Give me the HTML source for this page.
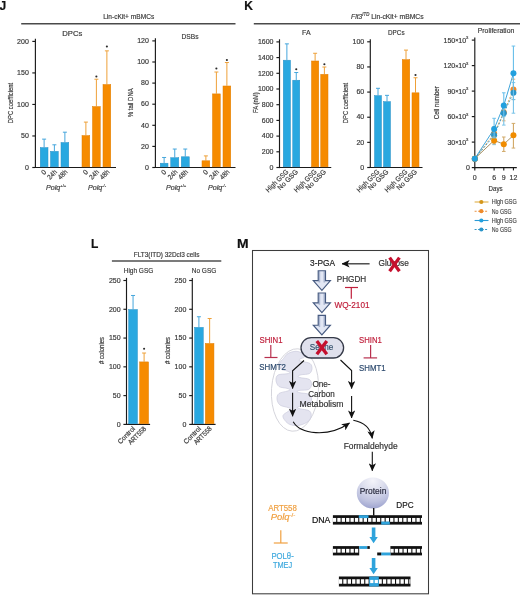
<!DOCTYPE html><html><head><meta charset="utf-8"><style>html,body{margin:0;padding:0;background:#fff;overflow:hidden;}svg{display:block;will-change:transform;}</style></head><body>
<svg width="520" height="595" viewBox="0 0 520 595" font-family='"Liberation Sans", sans-serif'>
<rect width="520" height="595" fill="#fff"/>
<text x="-0.60" y="9.90" font-size="12" fill="#111" font-weight="bold"  stroke="#111" stroke-width="0.18">J</text>
<text x="244.20" y="10.00" font-size="12" fill="#111" font-weight="bold"  stroke="#111" stroke-width="0.18">K</text>
<text x="91.00" y="247.60" font-size="12" fill="#111" font-weight="bold"  stroke="#111" stroke-width="0.18">L</text>
<text x="237.00" y="247.60" font-size="12" fill="#111" textLength="11.6" lengthAdjust="spacingAndGlyphs" font-weight="bold"  stroke="#111" stroke-width="0.18">M</text>
<text x="128.70" y="19.20" font-size="7" fill="#3a3a3a" text-anchor="middle" textLength="51" lengthAdjust="spacingAndGlyphs"  stroke="#3a3a3a" stroke-width="0.18">Lin-cKit+ mBMCs</text>
<line x1="21.20" y1="23.80" x2="235.50" y2="23.80" stroke="#4a4a4a" stroke-width="1.4" />
<text x="72.30" y="36.30" font-size="7" fill="#3a3a3a" text-anchor="middle" textLength="20" lengthAdjust="spacingAndGlyphs"  stroke="#3a3a3a" stroke-width="0.18">DPCs</text>
<line x1="32.30" y1="167.50" x2="35.40" y2="167.50" stroke="#1a1a1a" stroke-width="1.15" />
<text x="28.80" y="169.75" font-size="7" fill="#3a3a3a" text-anchor="end"  stroke="#3a3a3a" stroke-width="0.18">0</text>
<line x1="32.30" y1="135.97" x2="35.40" y2="135.97" stroke="#1a1a1a" stroke-width="1.15" />
<text x="28.80" y="138.22" font-size="7" fill="#3a3a3a" text-anchor="end"  stroke="#3a3a3a" stroke-width="0.18">50</text>
<line x1="32.30" y1="104.45" x2="35.40" y2="104.45" stroke="#1a1a1a" stroke-width="1.15" />
<text x="28.80" y="106.70" font-size="7" fill="#3a3a3a" text-anchor="end"  stroke="#3a3a3a" stroke-width="0.18">100</text>
<line x1="32.30" y1="72.93" x2="35.40" y2="72.93" stroke="#1a1a1a" stroke-width="1.15" />
<text x="28.80" y="75.18" font-size="7" fill="#3a3a3a" text-anchor="end"  stroke="#3a3a3a" stroke-width="0.18">150</text>
<line x1="32.30" y1="41.40" x2="35.40" y2="41.40" stroke="#1a1a1a" stroke-width="1.15" />
<text x="28.80" y="43.65" font-size="7" fill="#3a3a3a" text-anchor="end"  stroke="#3a3a3a" stroke-width="0.18">200</text>
<line x1="35.40" y1="38.80" x2="35.40" y2="168.10" stroke="#1a1a1a" stroke-width="1.15" />
<line x1="34.80" y1="167.50" x2="116.00" y2="167.50" stroke="#1a1a1a" stroke-width="1.15" />
<line x1="44.12" y1="147.32" x2="44.12" y2="139.13" stroke="#45a6dc" stroke-width="1.0" />
<line x1="42.12" y1="139.13" x2="46.12" y2="139.13" stroke="#45a6dc" stroke-width="1.0" />
<rect x="40.25" y="147.57" width="7.75" height="19.28" fill="#29a8e0" stroke="#2a90c6" stroke-width="0.5"/>
<line x1="54.38" y1="151.11" x2="54.38" y2="144.80" stroke="#45a6dc" stroke-width="1.0" />
<line x1="52.38" y1="144.80" x2="56.38" y2="144.80" stroke="#45a6dc" stroke-width="1.0" />
<rect x="50.50" y="151.36" width="7.75" height="15.49" fill="#29a8e0" stroke="#2a90c6" stroke-width="0.5"/>
<line x1="64.88" y1="142.28" x2="64.88" y2="132.19" stroke="#45a6dc" stroke-width="1.0" />
<line x1="62.88" y1="132.19" x2="66.88" y2="132.19" stroke="#45a6dc" stroke-width="1.0" />
<rect x="61.00" y="142.53" width="7.75" height="24.32" fill="#29a8e0" stroke="#2a90c6" stroke-width="0.5"/>
<line x1="85.88" y1="135.34" x2="85.88" y2="122.10" stroke="#eea038" stroke-width="1.0" />
<line x1="83.88" y1="122.10" x2="87.88" y2="122.10" stroke="#eea038" stroke-width="1.0" />
<rect x="82.00" y="135.59" width="7.75" height="31.26" fill="#f68b00" stroke="#e07d00" stroke-width="0.5"/>
<line x1="96.38" y1="106.34" x2="96.38" y2="79.23" stroke="#eea038" stroke-width="1.0" />
<line x1="94.38" y1="79.23" x2="98.38" y2="79.23" stroke="#eea038" stroke-width="1.0" />
<rect x="92.50" y="106.59" width="7.75" height="60.26" fill="#f68b00" stroke="#e07d00" stroke-width="0.5"/>
<circle cx="96.38" cy="76.50" r="1.05" fill="#2a2a2a"/>
<line x1="106.88" y1="84.27" x2="106.88" y2="50.86" stroke="#eea038" stroke-width="1.0" />
<line x1="104.88" y1="50.86" x2="108.88" y2="50.86" stroke="#eea038" stroke-width="1.0" />
<rect x="103.00" y="84.52" width="7.75" height="82.33" fill="#f68b00" stroke="#e07d00" stroke-width="0.5"/>
<circle cx="106.88" cy="46.50" r="1.05" fill="#2a2a2a"/>
<text x="13.20" y="103.00" font-size="7.6" fill="#3a3a3a" text-anchor="middle" textLength="40.4" lengthAdjust="spacingAndGlyphs" transform="rotate(-90 13.20 103.00)"  stroke="#3a3a3a" stroke-width="0.18">DPC coefficient</text>
<text x="190.00" y="39.20" font-size="7" fill="#3a3a3a" text-anchor="middle" textLength="17" lengthAdjust="spacingAndGlyphs"  stroke="#3a3a3a" stroke-width="0.18">DSBs</text>
<line x1="152.30" y1="167.50" x2="155.40" y2="167.50" stroke="#1a1a1a" stroke-width="1.15" />
<text x="148.90" y="169.75" font-size="7" fill="#3a3a3a" text-anchor="end"  stroke="#3a3a3a" stroke-width="0.18">0</text>
<line x1="152.30" y1="146.40" x2="155.40" y2="146.40" stroke="#1a1a1a" stroke-width="1.15" />
<text x="148.90" y="148.65" font-size="7" fill="#3a3a3a" text-anchor="end"  stroke="#3a3a3a" stroke-width="0.18">20</text>
<line x1="152.30" y1="125.30" x2="155.40" y2="125.30" stroke="#1a1a1a" stroke-width="1.15" />
<text x="148.90" y="127.55" font-size="7" fill="#3a3a3a" text-anchor="end"  stroke="#3a3a3a" stroke-width="0.18">40</text>
<line x1="152.30" y1="104.20" x2="155.40" y2="104.20" stroke="#1a1a1a" stroke-width="1.15" />
<text x="148.90" y="106.45" font-size="7" fill="#3a3a3a" text-anchor="end"  stroke="#3a3a3a" stroke-width="0.18">60</text>
<line x1="152.30" y1="83.10" x2="155.40" y2="83.10" stroke="#1a1a1a" stroke-width="1.15" />
<text x="148.90" y="85.35" font-size="7" fill="#3a3a3a" text-anchor="end"  stroke="#3a3a3a" stroke-width="0.18">80</text>
<line x1="152.30" y1="62.00" x2="155.40" y2="62.00" stroke="#1a1a1a" stroke-width="1.15" />
<text x="148.90" y="64.25" font-size="7" fill="#3a3a3a" text-anchor="end"  stroke="#3a3a3a" stroke-width="0.18">100</text>
<line x1="152.30" y1="40.90" x2="155.40" y2="40.90" stroke="#1a1a1a" stroke-width="1.15" />
<text x="148.90" y="43.15" font-size="7" fill="#3a3a3a" text-anchor="end"  stroke="#3a3a3a" stroke-width="0.18">120</text>
<line x1="155.40" y1="38.30" x2="155.40" y2="168.10" stroke="#1a1a1a" stroke-width="1.15" />
<line x1="154.80" y1="167.50" x2="235.50" y2="167.50" stroke="#1a1a1a" stroke-width="1.15" />
<line x1="164.12" y1="162.96" x2="164.12" y2="157.48" stroke="#45a6dc" stroke-width="1.0" />
<line x1="162.12" y1="157.48" x2="166.12" y2="157.48" stroke="#45a6dc" stroke-width="1.0" />
<rect x="160.25" y="163.21" width="7.75" height="3.64" fill="#29a8e0" stroke="#2a90c6" stroke-width="0.5"/>
<line x1="174.75" y1="157.48" x2="174.75" y2="149.04" stroke="#45a6dc" stroke-width="1.0" />
<line x1="172.75" y1="149.04" x2="176.75" y2="149.04" stroke="#45a6dc" stroke-width="1.0" />
<rect x="170.75" y="157.73" width="8.00" height="9.12" fill="#29a8e0" stroke="#2a90c6" stroke-width="0.5"/>
<line x1="185.25" y1="156.53" x2="185.25" y2="149.04" stroke="#45a6dc" stroke-width="1.0" />
<line x1="183.25" y1="149.04" x2="187.25" y2="149.04" stroke="#45a6dc" stroke-width="1.0" />
<rect x="181.25" y="156.78" width="8.00" height="10.07" fill="#29a8e0" stroke="#2a90c6" stroke-width="0.5"/>
<line x1="205.88" y1="160.54" x2="205.88" y2="155.90" stroke="#eea038" stroke-width="1.0" />
<line x1="203.88" y1="155.90" x2="207.88" y2="155.90" stroke="#eea038" stroke-width="1.0" />
<rect x="202.00" y="160.79" width="7.75" height="6.06" fill="#f68b00" stroke="#e07d00" stroke-width="0.5"/>
<line x1="216.38" y1="93.65" x2="216.38" y2="72.02" stroke="#eea038" stroke-width="1.0" />
<line x1="214.38" y1="72.02" x2="218.38" y2="72.02" stroke="#eea038" stroke-width="1.0" />
<rect x="212.50" y="93.90" width="7.75" height="72.95" fill="#f68b00" stroke="#e07d00" stroke-width="0.5"/>
<circle cx="216.38" cy="68.50" r="1.05" fill="#2a2a2a"/>
<line x1="226.88" y1="85.74" x2="226.88" y2="62.53" stroke="#eea038" stroke-width="1.0" />
<line x1="224.88" y1="62.53" x2="228.88" y2="62.53" stroke="#eea038" stroke-width="1.0" />
<rect x="223.00" y="85.99" width="7.75" height="80.86" fill="#f68b00" stroke="#e07d00" stroke-width="0.5"/>
<circle cx="226.88" cy="60.00" r="1.05" fill="#2a2a2a"/>
<text x="133.20" y="102.70" font-size="7.6" fill="#3a3a3a" text-anchor="middle" textLength="29" lengthAdjust="spacingAndGlyphs" transform="rotate(-90 133.20 102.70)"  stroke="#3a3a3a" stroke-width="0.18">% tail DNA</text>
<text x="46.80" y="172.60" font-size="7" fill="#3a3a3a" text-anchor="end" transform="rotate(-45 46.80 172.60)"  stroke="#3a3a3a" stroke-width="0.18">0</text>
<text x="57.50" y="172.50" font-size="7" fill="#3a3a3a" text-anchor="end" textLength="10.6" lengthAdjust="spacingAndGlyphs" transform="rotate(-45 57.50 172.50)"  stroke="#3a3a3a" stroke-width="0.18">24h</text>
<text x="68.00" y="172.50" font-size="7" fill="#3a3a3a" text-anchor="end" textLength="10.6" lengthAdjust="spacingAndGlyphs" transform="rotate(-45 68.00 172.50)"  stroke="#3a3a3a" stroke-width="0.18">48h</text>
<text x="88.60" y="172.60" font-size="7" fill="#3a3a3a" text-anchor="end" transform="rotate(-45 88.60 172.60)"  stroke="#3a3a3a" stroke-width="0.18">0</text>
<text x="99.50" y="172.50" font-size="7" fill="#3a3a3a" text-anchor="end" textLength="10.6" lengthAdjust="spacingAndGlyphs" transform="rotate(-45 99.50 172.50)"  stroke="#3a3a3a" stroke-width="0.18">24h</text>
<text x="110.00" y="172.50" font-size="7" fill="#3a3a3a" text-anchor="end" textLength="10.6" lengthAdjust="spacingAndGlyphs" transform="rotate(-45 110.00 172.50)"  stroke="#3a3a3a" stroke-width="0.18">48h</text>
<text x="166.80" y="172.60" font-size="7" fill="#3a3a3a" text-anchor="end" transform="rotate(-45 166.80 172.60)"  stroke="#3a3a3a" stroke-width="0.18">0</text>
<text x="177.90" y="172.50" font-size="7" fill="#3a3a3a" text-anchor="end" textLength="10.6" lengthAdjust="spacingAndGlyphs" transform="rotate(-45 177.90 172.50)"  stroke="#3a3a3a" stroke-width="0.18">24h</text>
<text x="188.40" y="172.50" font-size="7" fill="#3a3a3a" text-anchor="end" textLength="10.6" lengthAdjust="spacingAndGlyphs" transform="rotate(-45 188.40 172.50)"  stroke="#3a3a3a" stroke-width="0.18">48h</text>
<text x="208.60" y="172.60" font-size="7" fill="#3a3a3a" text-anchor="end" transform="rotate(-45 208.60 172.60)"  stroke="#3a3a3a" stroke-width="0.18">0</text>
<text x="219.50" y="172.50" font-size="7" fill="#3a3a3a" text-anchor="end" textLength="10.6" lengthAdjust="spacingAndGlyphs" transform="rotate(-45 219.50 172.50)"  stroke="#3a3a3a" stroke-width="0.18">24h</text>
<text x="230.00" y="172.50" font-size="7" fill="#3a3a3a" text-anchor="end" textLength="10.6" lengthAdjust="spacingAndGlyphs" transform="rotate(-45 230.00 172.50)"  stroke="#3a3a3a" stroke-width="0.18">48h</text>
<text x="46" y="190" font-size="7.1" fill="#3a3a3a" font-style="italic" stroke="#3a3a3a" stroke-width="0.18">Polq<tspan font-size="4.2" dy="-3.2" fill="#777" font-style="normal">+/+</tspan></text>
<text x="88" y="190" font-size="7.1" fill="#3a3a3a" font-style="italic" stroke="#3a3a3a" stroke-width="0.18">Polq<tspan font-size="4.2" dy="-3.2" fill="#777" font-style="normal">-/-</tspan></text>
<text x="166" y="190" font-size="7.1" fill="#3a3a3a" font-style="italic" stroke="#3a3a3a" stroke-width="0.18">Polq<tspan font-size="4.2" dy="-3.2" fill="#777" font-style="normal">+/+</tspan></text>
<text x="208" y="190" font-size="7.1" fill="#3a3a3a" font-style="italic" stroke="#3a3a3a" stroke-width="0.18">Polq<tspan font-size="4.2" dy="-3.2" fill="#777" font-style="normal">-/-</tspan></text>
<line x1="253.80" y1="23.80" x2="520.00" y2="23.80" stroke="#4a4a4a" stroke-width="1.4" />
<text x="351" y="19.3" font-size="7" fill="#3a3a3a" textLength="72.6" lengthAdjust="spacingAndGlyphs" stroke="#3a3a3a" stroke-width="0.18"><tspan font-style="italic">Flt3</tspan><tspan font-size="4.5" dy="-3" font-style="italic">ITD</tspan><tspan dy="3"> Lin-cKit+ mBMCs</tspan></text>
<text x="306.30" y="34.60" font-size="7" fill="#3a3a3a" text-anchor="middle"  stroke="#3a3a3a" stroke-width="0.18">FA</text>
<line x1="276.40" y1="167.50" x2="279.50" y2="167.50" stroke="#1a1a1a" stroke-width="1.15" />
<text x="273.50" y="169.75" font-size="7" fill="#3a3a3a" text-anchor="end"  stroke="#3a3a3a" stroke-width="0.18">0</text>
<line x1="276.40" y1="151.80" x2="279.50" y2="151.80" stroke="#1a1a1a" stroke-width="1.15" />
<text x="273.50" y="154.05" font-size="7" fill="#3a3a3a" text-anchor="end"  stroke="#3a3a3a" stroke-width="0.18">200</text>
<line x1="276.40" y1="136.10" x2="279.50" y2="136.10" stroke="#1a1a1a" stroke-width="1.15" />
<text x="273.50" y="138.35" font-size="7" fill="#3a3a3a" text-anchor="end"  stroke="#3a3a3a" stroke-width="0.18">400</text>
<line x1="276.40" y1="120.40" x2="279.50" y2="120.40" stroke="#1a1a1a" stroke-width="1.15" />
<text x="273.50" y="122.65" font-size="7" fill="#3a3a3a" text-anchor="end"  stroke="#3a3a3a" stroke-width="0.18">600</text>
<line x1="276.40" y1="104.70" x2="279.50" y2="104.70" stroke="#1a1a1a" stroke-width="1.15" />
<text x="273.50" y="106.95" font-size="7" fill="#3a3a3a" text-anchor="end"  stroke="#3a3a3a" stroke-width="0.18">800</text>
<line x1="276.40" y1="89.00" x2="279.50" y2="89.00" stroke="#1a1a1a" stroke-width="1.15" />
<text x="273.50" y="91.25" font-size="7" fill="#3a3a3a" text-anchor="end"  stroke="#3a3a3a" stroke-width="0.18">1000</text>
<line x1="276.40" y1="73.30" x2="279.50" y2="73.30" stroke="#1a1a1a" stroke-width="1.15" />
<text x="273.50" y="75.55" font-size="7" fill="#3a3a3a" text-anchor="end"  stroke="#3a3a3a" stroke-width="0.18">1200</text>
<line x1="276.40" y1="57.60" x2="279.50" y2="57.60" stroke="#1a1a1a" stroke-width="1.15" />
<text x="273.50" y="59.85" font-size="7" fill="#3a3a3a" text-anchor="end"  stroke="#3a3a3a" stroke-width="0.18">1400</text>
<line x1="276.40" y1="41.90" x2="279.50" y2="41.90" stroke="#1a1a1a" stroke-width="1.15" />
<text x="273.50" y="44.15" font-size="7" fill="#3a3a3a" text-anchor="end"  stroke="#3a3a3a" stroke-width="0.18">1600</text>
<line x1="279.50" y1="39.30" x2="279.50" y2="168.10" stroke="#1a1a1a" stroke-width="1.15" />
<line x1="278.90" y1="167.50" x2="331.25" y2="167.50" stroke="#1a1a1a" stroke-width="1.15" />
<line x1="286.88" y1="59.95" x2="286.88" y2="43.86" stroke="#45a6dc" stroke-width="1.0" />
<line x1="284.88" y1="43.86" x2="288.88" y2="43.86" stroke="#45a6dc" stroke-width="1.0" />
<rect x="283.25" y="60.20" width="7.25" height="106.64" fill="#29a8e0" stroke="#2a90c6" stroke-width="0.5"/>
<line x1="296.25" y1="79.97" x2="296.25" y2="72.52" stroke="#45a6dc" stroke-width="1.0" />
<line x1="294.25" y1="72.52" x2="298.25" y2="72.52" stroke="#45a6dc" stroke-width="1.0" />
<rect x="292.75" y="80.22" width="7.00" height="86.63" fill="#29a8e0" stroke="#2a90c6" stroke-width="0.5"/>
<circle cx="296.25" cy="69.25" r="1.05" fill="#2a2a2a"/>
<line x1="315.12" y1="60.74" x2="315.12" y2="53.28" stroke="#eea038" stroke-width="1.0" />
<line x1="313.12" y1="53.28" x2="317.12" y2="53.28" stroke="#eea038" stroke-width="1.0" />
<rect x="311.50" y="60.99" width="7.25" height="105.86" fill="#f68b00" stroke="#e07d00" stroke-width="0.5"/>
<line x1="324.38" y1="74.08" x2="324.38" y2="67.02" stroke="#eea038" stroke-width="1.0" />
<line x1="322.38" y1="67.02" x2="326.38" y2="67.02" stroke="#eea038" stroke-width="1.0" />
<rect x="320.75" y="74.33" width="7.25" height="92.52" fill="#f68b00" stroke="#e07d00" stroke-width="0.5"/>
<circle cx="324.38" cy="64.25" r="1.05" fill="#2a2a2a"/>
<text x="257.90" y="102.70" font-size="7.6" fill="#3a3a3a" text-anchor="middle" textLength="20.8" lengthAdjust="spacingAndGlyphs" transform="rotate(-90 257.90 102.70)"  stroke="#3a3a3a" stroke-width="0.18">FA (nM)</text>
<text x="396.30" y="34.60" font-size="7" fill="#3a3a3a" text-anchor="middle" textLength="16.5" lengthAdjust="spacingAndGlyphs"  stroke="#3a3a3a" stroke-width="0.18">DPCs</text>
<line x1="367.20" y1="167.50" x2="370.30" y2="167.50" stroke="#1a1a1a" stroke-width="1.15" />
<text x="364.20" y="169.75" font-size="7" fill="#3a3a3a" text-anchor="end"  stroke="#3a3a3a" stroke-width="0.18">0</text>
<line x1="367.20" y1="142.36" x2="370.30" y2="142.36" stroke="#1a1a1a" stroke-width="1.15" />
<text x="364.20" y="144.61" font-size="7" fill="#3a3a3a" text-anchor="end"  stroke="#3a3a3a" stroke-width="0.18">20</text>
<line x1="367.20" y1="117.22" x2="370.30" y2="117.22" stroke="#1a1a1a" stroke-width="1.15" />
<text x="364.20" y="119.47" font-size="7" fill="#3a3a3a" text-anchor="end"  stroke="#3a3a3a" stroke-width="0.18">40</text>
<line x1="367.20" y1="92.08" x2="370.30" y2="92.08" stroke="#1a1a1a" stroke-width="1.15" />
<text x="364.20" y="94.33" font-size="7" fill="#3a3a3a" text-anchor="end"  stroke="#3a3a3a" stroke-width="0.18">60</text>
<line x1="367.20" y1="66.94" x2="370.30" y2="66.94" stroke="#1a1a1a" stroke-width="1.15" />
<text x="364.20" y="69.19" font-size="7" fill="#3a3a3a" text-anchor="end"  stroke="#3a3a3a" stroke-width="0.18">80</text>
<line x1="367.20" y1="41.80" x2="370.30" y2="41.80" stroke="#1a1a1a" stroke-width="1.15" />
<text x="364.20" y="44.05" font-size="7" fill="#3a3a3a" text-anchor="end"  stroke="#3a3a3a" stroke-width="0.18">100</text>
<line x1="370.30" y1="39.20" x2="370.30" y2="168.10" stroke="#1a1a1a" stroke-width="1.15" />
<line x1="369.70" y1="167.50" x2="422.50" y2="167.50" stroke="#1a1a1a" stroke-width="1.15" />
<line x1="378.00" y1="95.35" x2="378.00" y2="88.31" stroke="#45a6dc" stroke-width="1.0" />
<line x1="376.00" y1="88.31" x2="380.00" y2="88.31" stroke="#45a6dc" stroke-width="1.0" />
<rect x="374.50" y="95.60" width="7.00" height="71.25" fill="#29a8e0" stroke="#2a90c6" stroke-width="0.5"/>
<line x1="387.00" y1="101.38" x2="387.00" y2="95.35" stroke="#45a6dc" stroke-width="1.0" />
<line x1="385.00" y1="95.35" x2="389.00" y2="95.35" stroke="#45a6dc" stroke-width="1.0" />
<rect x="383.50" y="101.63" width="7.00" height="65.22" fill="#29a8e0" stroke="#2a90c6" stroke-width="0.5"/>
<line x1="406.00" y1="59.40" x2="406.00" y2="50.10" stroke="#eea038" stroke-width="1.0" />
<line x1="404.00" y1="50.10" x2="408.00" y2="50.10" stroke="#eea038" stroke-width="1.0" />
<rect x="402.25" y="59.65" width="7.50" height="107.20" fill="#f68b00" stroke="#e07d00" stroke-width="0.5"/>
<line x1="415.50" y1="92.58" x2="415.50" y2="77.75" stroke="#eea038" stroke-width="1.0" />
<line x1="413.50" y1="77.75" x2="417.50" y2="77.75" stroke="#eea038" stroke-width="1.0" />
<rect x="412.00" y="92.83" width="7.00" height="74.02" fill="#f68b00" stroke="#e07d00" stroke-width="0.5"/>
<circle cx="415.50" cy="75.00" r="1.05" fill="#2a2a2a"/>
<text x="348.20" y="103.00" font-size="7.6" fill="#3a3a3a" text-anchor="middle" textLength="40.3" lengthAdjust="spacingAndGlyphs" transform="rotate(-90 348.20 103.00)"  stroke="#3a3a3a" stroke-width="0.18">DPC coefficient</text>
<text x="289.00" y="172.20" font-size="7" fill="#3a3a3a" text-anchor="end" textLength="29.0" lengthAdjust="spacingAndGlyphs" transform="rotate(-45 289.00 172.20)"  stroke="#3a3a3a" stroke-width="0.18">High GSG</text>
<text x="298.40" y="172.20" font-size="7" fill="#3a3a3a" text-anchor="end" textLength="25.8" lengthAdjust="spacingAndGlyphs" transform="rotate(-45 298.40 172.20)"  stroke="#3a3a3a" stroke-width="0.18">No GSG</text>
<text x="317.20" y="172.20" font-size="7" fill="#3a3a3a" text-anchor="end" textLength="29.0" lengthAdjust="spacingAndGlyphs" transform="rotate(-45 317.20 172.20)"  stroke="#3a3a3a" stroke-width="0.18">High GSG</text>
<text x="326.50" y="172.20" font-size="7" fill="#3a3a3a" text-anchor="end" textLength="25.8" lengthAdjust="spacingAndGlyphs" transform="rotate(-45 326.50 172.20)"  stroke="#3a3a3a" stroke-width="0.18">No GSG</text>
<text x="380.00" y="172.20" font-size="7" fill="#3a3a3a" text-anchor="end" textLength="29.0" lengthAdjust="spacingAndGlyphs" transform="rotate(-45 380.00 172.20)"  stroke="#3a3a3a" stroke-width="0.18">High GSG</text>
<text x="389.10" y="172.20" font-size="7" fill="#3a3a3a" text-anchor="end" textLength="25.8" lengthAdjust="spacingAndGlyphs" transform="rotate(-45 389.10 172.20)"  stroke="#3a3a3a" stroke-width="0.18">No GSG</text>
<text x="408.10" y="172.20" font-size="7" fill="#3a3a3a" text-anchor="end" textLength="29.0" lengthAdjust="spacingAndGlyphs" transform="rotate(-45 408.10 172.20)"  stroke="#3a3a3a" stroke-width="0.18">High GSG</text>
<text x="417.60" y="172.20" font-size="7" fill="#3a3a3a" text-anchor="end" textLength="25.8" lengthAdjust="spacingAndGlyphs" transform="rotate(-45 417.60 172.20)"  stroke="#3a3a3a" stroke-width="0.18">No GSG</text>
<text x="496.00" y="32.90" font-size="7" fill="#3a3a3a" text-anchor="middle" textLength="36.5" lengthAdjust="spacingAndGlyphs"  stroke="#3a3a3a" stroke-width="0.18">Proliferation</text>
<line x1="471.80" y1="167.60" x2="474.80" y2="167.60" stroke="#1a1a1a" stroke-width="1.15" />
<text x="470.00" y="170.10" font-size="7" fill="#3a3a3a" text-anchor="end"  stroke="#3a3a3a" stroke-width="0.18">0</text>
<line x1="471.80" y1="142.10" x2="474.80" y2="142.10" stroke="#1a1a1a" stroke-width="1.15" />
<text x="468.4" y="144.60" font-size="7" fill="#3a3a3a" text-anchor="end" stroke="#3a3a3a" stroke-width="0.18">30<tspan font-size="5.2" dy="-0.3">×</tspan><tspan dy="0.3">10</tspan><tspan font-size="4.2" dy="-3.2">3</tspan></text>
<line x1="471.80" y1="116.60" x2="474.80" y2="116.60" stroke="#1a1a1a" stroke-width="1.15" />
<text x="468.4" y="119.10" font-size="7" fill="#3a3a3a" text-anchor="end" stroke="#3a3a3a" stroke-width="0.18">60<tspan font-size="5.2" dy="-0.3">×</tspan><tspan dy="0.3">10</tspan><tspan font-size="4.2" dy="-3.2">3</tspan></text>
<line x1="471.80" y1="91.10" x2="474.80" y2="91.10" stroke="#1a1a1a" stroke-width="1.15" />
<text x="468.4" y="93.60" font-size="7" fill="#3a3a3a" text-anchor="end" stroke="#3a3a3a" stroke-width="0.18">90<tspan font-size="5.2" dy="-0.3">×</tspan><tspan dy="0.3">10</tspan><tspan font-size="4.2" dy="-3.2">3</tspan></text>
<line x1="471.80" y1="65.60" x2="474.80" y2="65.60" stroke="#1a1a1a" stroke-width="1.15" />
<text x="468.4" y="68.10" font-size="7" fill="#3a3a3a" text-anchor="end" stroke="#3a3a3a" stroke-width="0.18">120<tspan font-size="5.2" dy="-0.3">×</tspan><tspan dy="0.3">10</tspan><tspan font-size="4.2" dy="-3.2">3</tspan></text>
<line x1="471.80" y1="40.10" x2="474.80" y2="40.10" stroke="#1a1a1a" stroke-width="1.15" />
<text x="468.4" y="42.60" font-size="7" fill="#3a3a3a" text-anchor="end" stroke="#3a3a3a" stroke-width="0.18">150<tspan font-size="5.2" dy="-0.3">×</tspan><tspan dy="0.3">10</tspan><tspan font-size="4.2" dy="-3.2">3</tspan></text>
<line x1="474.80" y1="37.60" x2="474.80" y2="168.20" stroke="#1a1a1a" stroke-width="1.15" />
<line x1="474.20" y1="167.60" x2="516.80" y2="167.60" stroke="#1a1a1a" stroke-width="1.15" />
<line x1="474.80" y1="167.60" x2="474.80" y2="170.40" stroke="#1a1a1a" stroke-width="1.15" />
<text x="474.80" y="180.30" font-size="7" fill="#3a3a3a" text-anchor="middle"  stroke="#3a3a3a" stroke-width="0.18">0</text>
<line x1="494.12" y1="167.60" x2="494.12" y2="170.40" stroke="#1a1a1a" stroke-width="1.15" />
<text x="494.12" y="180.30" font-size="7" fill="#3a3a3a" text-anchor="middle"  stroke="#3a3a3a" stroke-width="0.18">6</text>
<line x1="503.78" y1="167.60" x2="503.78" y2="170.40" stroke="#1a1a1a" stroke-width="1.15" />
<text x="503.78" y="180.30" font-size="7" fill="#3a3a3a" text-anchor="middle"  stroke="#3a3a3a" stroke-width="0.18">9</text>
<line x1="513.44" y1="167.60" x2="513.44" y2="170.40" stroke="#1a1a1a" stroke-width="1.15" />
<text x="513.44" y="180.30" font-size="7" fill="#3a3a3a" text-anchor="middle"  stroke="#3a3a3a" stroke-width="0.18">12</text>
<text x="495.60" y="191.40" font-size="7" fill="#3a3a3a" text-anchor="middle" textLength="14" lengthAdjust="spacingAndGlyphs"  stroke="#3a3a3a" stroke-width="0.18">Days</text>
<text x="438.80" y="102.70" font-size="7.6" fill="#3a3a3a" text-anchor="middle" textLength="33" lengthAdjust="spacingAndGlyphs" transform="rotate(-90 438.80 102.70)"  stroke="#3a3a3a" stroke-width="0.18">Cell number</text>
<line x1="474.80" y1="159.95" x2="474.80" y2="157.40" stroke="#e8b070" stroke-width="1.15" />
<line x1="473.00" y1="159.95" x2="476.60" y2="159.95" stroke="#e8b070" stroke-width="1.0" />
<line x1="473.00" y1="157.40" x2="476.60" y2="157.40" stroke="#e8b070" stroke-width="1.0" />
<line x1="494.12" y1="142.10" x2="494.12" y2="126.80" stroke="#e8b070" stroke-width="1.15" />
<line x1="492.32" y1="142.10" x2="495.92" y2="142.10" stroke="#e8b070" stroke-width="1.0" />
<line x1="492.32" y1="126.80" x2="495.92" y2="126.80" stroke="#e8b070" stroke-width="1.0" />
<line x1="503.78" y1="120.85" x2="503.78" y2="103.85" stroke="#e8b070" stroke-width="1.15" />
<line x1="501.98" y1="120.85" x2="505.58" y2="120.85" stroke="#e8b070" stroke-width="1.0" />
<line x1="501.98" y1="103.85" x2="505.58" y2="103.85" stroke="#e8b070" stroke-width="1.0" />
<line x1="513.44" y1="99.60" x2="513.44" y2="79.20" stroke="#e8b070" stroke-width="1.15" />
<line x1="511.64" y1="99.60" x2="515.24" y2="99.60" stroke="#e8b070" stroke-width="1.0" />
<line x1="511.64" y1="79.20" x2="515.24" y2="79.20" stroke="#e8b070" stroke-width="1.0" />
<path d="M474.80,158.67 L494.12,133.60 L503.78,112.35 L513.44,89.40" fill="none" stroke="#d8963a" stroke-width="0.9" stroke-dasharray="2,1.5"/>
<circle cx="474.80" cy="158.67" r="3.0" fill="#ee8a2a"/>
<circle cx="494.12" cy="133.60" r="3.0" fill="#ee8a2a"/>
<circle cx="503.78" cy="112.35" r="3.0" fill="#ee8a2a"/>
<circle cx="513.44" cy="89.40" r="3.0" fill="#ee8a2a"/>
<line x1="474.80" y1="159.95" x2="474.80" y2="157.40" stroke="#7cc4e8" stroke-width="1.15" />
<line x1="473.00" y1="159.95" x2="476.60" y2="159.95" stroke="#7cc4e8" stroke-width="1.0" />
<line x1="473.00" y1="157.40" x2="476.60" y2="157.40" stroke="#7cc4e8" stroke-width="1.0" />
<line x1="494.12" y1="144.65" x2="494.12" y2="129.35" stroke="#7cc4e8" stroke-width="1.15" />
<line x1="492.32" y1="144.65" x2="495.92" y2="144.65" stroke="#7cc4e8" stroke-width="1.0" />
<line x1="492.32" y1="129.35" x2="495.92" y2="129.35" stroke="#7cc4e8" stroke-width="1.0" />
<line x1="503.78" y1="125.10" x2="503.78" y2="103.85" stroke="#7cc4e8" stroke-width="1.15" />
<line x1="501.98" y1="125.10" x2="505.58" y2="125.10" stroke="#7cc4e8" stroke-width="1.0" />
<line x1="501.98" y1="103.85" x2="505.58" y2="103.85" stroke="#7cc4e8" stroke-width="1.0" />
<line x1="513.44" y1="113.20" x2="513.44" y2="82.60" stroke="#7cc4e8" stroke-width="1.15" />
<line x1="511.64" y1="113.20" x2="515.24" y2="113.20" stroke="#7cc4e8" stroke-width="1.0" />
<line x1="511.64" y1="82.60" x2="515.24" y2="82.60" stroke="#7cc4e8" stroke-width="1.0" />
<path d="M474.80,158.67 L494.12,135.30 L503.78,113.20 L513.44,92.80" fill="none" stroke="#3a98c4" stroke-width="0.9" stroke-dasharray="2,1.5"/>
<circle cx="474.80" cy="158.67" r="3.0" fill="#2b95c9"/>
<circle cx="494.12" cy="135.30" r="3.0" fill="#2b95c9"/>
<circle cx="503.78" cy="113.20" r="3.0" fill="#2b95c9"/>
<circle cx="513.44" cy="92.80" r="3.0" fill="#2b95c9"/>
<line x1="474.80" y1="159.95" x2="474.80" y2="157.40" stroke="#d2aa6a" stroke-width="1.15" />
<line x1="473.00" y1="159.95" x2="476.60" y2="159.95" stroke="#d2aa6a" stroke-width="1.0" />
<line x1="473.00" y1="157.40" x2="476.60" y2="157.40" stroke="#d2aa6a" stroke-width="1.0" />
<line x1="494.12" y1="143.80" x2="494.12" y2="137.00" stroke="#d2aa6a" stroke-width="1.15" />
<line x1="492.32" y1="143.80" x2="495.92" y2="143.80" stroke="#d2aa6a" stroke-width="1.0" />
<line x1="492.32" y1="137.00" x2="495.92" y2="137.00" stroke="#d2aa6a" stroke-width="1.0" />
<line x1="503.78" y1="151.45" x2="503.78" y2="137.00" stroke="#d2aa6a" stroke-width="1.15" />
<line x1="501.98" y1="151.45" x2="505.58" y2="151.45" stroke="#d2aa6a" stroke-width="1.0" />
<line x1="501.98" y1="137.00" x2="505.58" y2="137.00" stroke="#d2aa6a" stroke-width="1.0" />
<line x1="513.44" y1="148.05" x2="513.44" y2="123.40" stroke="#d2aa6a" stroke-width="1.15" />
<line x1="511.64" y1="148.05" x2="515.24" y2="148.05" stroke="#d2aa6a" stroke-width="1.0" />
<line x1="511.64" y1="123.40" x2="515.24" y2="123.40" stroke="#d2aa6a" stroke-width="1.0" />
<path d="M474.80,158.67 L494.12,140.40 L503.78,144.22 L513.44,135.30" fill="none" stroke="#a08550" stroke-width="0.9"/>
<circle cx="474.80" cy="158.67" r="3.0" fill="#f08c00"/>
<circle cx="494.12" cy="140.40" r="3.0" fill="#f08c00"/>
<circle cx="503.78" cy="144.22" r="3.0" fill="#f08c00"/>
<circle cx="513.44" cy="135.30" r="3.0" fill="#f08c00"/>
<line x1="474.80" y1="159.95" x2="474.80" y2="157.40" stroke="#6cc0ea" stroke-width="1.15" />
<line x1="473.00" y1="159.95" x2="476.60" y2="159.95" stroke="#6cc0ea" stroke-width="1.0" />
<line x1="473.00" y1="157.40" x2="476.60" y2="157.40" stroke="#6cc0ea" stroke-width="1.0" />
<line x1="494.12" y1="137.85" x2="494.12" y2="118.30" stroke="#6cc0ea" stroke-width="1.15" />
<line x1="492.32" y1="137.85" x2="495.92" y2="137.85" stroke="#6cc0ea" stroke-width="1.0" />
<line x1="492.32" y1="118.30" x2="495.92" y2="118.30" stroke="#6cc0ea" stroke-width="1.0" />
<line x1="503.78" y1="116.60" x2="503.78" y2="92.80" stroke="#6cc0ea" stroke-width="1.15" />
<line x1="501.98" y1="116.60" x2="505.58" y2="116.60" stroke="#6cc0ea" stroke-width="1.0" />
<line x1="501.98" y1="92.80" x2="505.58" y2="92.80" stroke="#6cc0ea" stroke-width="1.0" />
<line x1="513.44" y1="99.60" x2="513.44" y2="46.05" stroke="#6cc0ea" stroke-width="1.15" />
<line x1="511.64" y1="99.60" x2="515.24" y2="99.60" stroke="#6cc0ea" stroke-width="1.0" />
<line x1="511.64" y1="46.05" x2="515.24" y2="46.05" stroke="#6cc0ea" stroke-width="1.0" />
<path d="M474.80,158.67 L494.12,128.93 L503.78,105.55 L513.44,73.25" fill="none" stroke="#2a9bd6" stroke-width="0.9"/>
<circle cx="474.80" cy="158.67" r="3.0" fill="#22a0de"/>
<circle cx="494.12" cy="128.93" r="3.0" fill="#22a0de"/>
<circle cx="503.78" cy="105.55" r="3.0" fill="#22a0de"/>
<circle cx="513.44" cy="73.25" r="3.0" fill="#22a0de"/>
<line x1="474.6" y1="202.0" x2="488.5" y2="202.0" stroke="#e0b048" stroke-width="1.1"/>
<circle cx="481.3" cy="202.0" r="2.1" fill="#d4961a"/>
<text x="491.80" y="204.40" font-size="7" fill="#4a4a4a" textLength="25" lengthAdjust="spacingAndGlyphs"  stroke="#4a4a4a" stroke-width="0.18">High GSG</text>
<line x1="474.6" y1="211.2" x2="488.5" y2="211.2" stroke="#e89040" stroke-width="1.1" stroke-dasharray="2,1.5"/>
<circle cx="481.3" cy="211.2" r="2.1" fill="#ee8a2a"/>
<text x="491.80" y="213.60" font-size="7" fill="#4a4a4a" textLength="19.8" lengthAdjust="spacingAndGlyphs"  stroke="#4a4a4a" stroke-width="0.18">No GSG</text>
<line x1="474.6" y1="220.5" x2="488.5" y2="220.5" stroke="#2a9bd6" stroke-width="1.1"/>
<circle cx="481.3" cy="220.5" r="2.1" fill="#22a0de"/>
<text x="491.80" y="222.90" font-size="7" fill="#4a4a4a" textLength="25" lengthAdjust="spacingAndGlyphs"  stroke="#4a4a4a" stroke-width="0.18">High GSG</text>
<line x1="474.6" y1="229.5" x2="488.5" y2="229.5" stroke="#3a98c4" stroke-width="1.1" stroke-dasharray="2,1.5"/>
<circle cx="481.3" cy="229.5" r="2.1" fill="#2b95c9"/>
<text x="491.80" y="231.90" font-size="7" fill="#4a4a4a" textLength="19.8" lengthAdjust="spacingAndGlyphs"  stroke="#4a4a4a" stroke-width="0.18">No GSG</text>
<text x="166.60" y="256.70" font-size="7" fill="#3a3a3a" text-anchor="middle" textLength="65.7" lengthAdjust="spacingAndGlyphs"  stroke="#3a3a3a" stroke-width="0.18">FLT3(ITD) 32Dcl3 cells</text>
<line x1="111.90" y1="261.00" x2="221.30" y2="261.00" stroke="#4f4f4f" stroke-width="1.4" />
<text x="138.50" y="273.20" font-size="7" fill="#3a3a3a" text-anchor="middle" textLength="29.5" lengthAdjust="spacingAndGlyphs"  stroke="#3a3a3a" stroke-width="0.18">High GSG</text>
<text x="204.00" y="273.20" font-size="7" fill="#3a3a3a" text-anchor="middle" textLength="24.5" lengthAdjust="spacingAndGlyphs"  stroke="#3a3a3a" stroke-width="0.18">No GSG</text>
<line x1="123.40" y1="424.40" x2="126.50" y2="424.40" stroke="#1a1a1a" stroke-width="1.15" />
<text x="120.60" y="426.65" font-size="7" fill="#3a3a3a" text-anchor="end"  stroke="#3a3a3a" stroke-width="0.18">0</text>
<line x1="123.40" y1="395.62" x2="126.50" y2="395.62" stroke="#1a1a1a" stroke-width="1.15" />
<text x="120.60" y="397.87" font-size="7" fill="#3a3a3a" text-anchor="end"  stroke="#3a3a3a" stroke-width="0.18">50</text>
<line x1="123.40" y1="366.84" x2="126.50" y2="366.84" stroke="#1a1a1a" stroke-width="1.15" />
<text x="120.60" y="369.09" font-size="7" fill="#3a3a3a" text-anchor="end"  stroke="#3a3a3a" stroke-width="0.18">100</text>
<line x1="123.40" y1="338.06" x2="126.50" y2="338.06" stroke="#1a1a1a" stroke-width="1.15" />
<text x="120.60" y="340.31" font-size="7" fill="#3a3a3a" text-anchor="end"  stroke="#3a3a3a" stroke-width="0.18">150</text>
<line x1="123.40" y1="309.28" x2="126.50" y2="309.28" stroke="#1a1a1a" stroke-width="1.15" />
<text x="120.60" y="311.53" font-size="7" fill="#3a3a3a" text-anchor="end"  stroke="#3a3a3a" stroke-width="0.18">200</text>
<line x1="123.40" y1="280.50" x2="126.50" y2="280.50" stroke="#1a1a1a" stroke-width="1.15" />
<text x="120.60" y="282.75" font-size="7" fill="#3a3a3a" text-anchor="end"  stroke="#3a3a3a" stroke-width="0.18">250</text>
<line x1="126.50" y1="277.90" x2="126.50" y2="425.00" stroke="#1a1a1a" stroke-width="1.15" />
<line x1="125.90" y1="424.40" x2="150.10" y2="424.40" stroke="#1a1a1a" stroke-width="1.15" />
<line x1="133.05" y1="309.28" x2="133.05" y2="295.47" stroke="#45a6dc" stroke-width="1.0" />
<line x1="131.05" y1="295.47" x2="135.05" y2="295.47" stroke="#45a6dc" stroke-width="1.0" />
<rect x="128.65" y="309.53" width="8.80" height="114.22" fill="#29a8e0" stroke="#2a90c6" stroke-width="0.5"/>
<line x1="144.10" y1="361.66" x2="144.10" y2="353.03" stroke="#eea038" stroke-width="1.0" />
<line x1="142.10" y1="353.03" x2="146.10" y2="353.03" stroke="#eea038" stroke-width="1.0" />
<rect x="139.65" y="361.91" width="8.90" height="61.84" fill="#f68b00" stroke="#e07d00" stroke-width="0.5"/>
<circle cx="144.10" cy="348.80" r="1.05" fill="#2a2a2a"/>
<text x="104.00" y="350.40" font-size="7.6" fill="#3a3a3a" text-anchor="middle" textLength="27" lengthAdjust="spacingAndGlyphs" transform="rotate(-90 104.00 350.40)"  stroke="#3a3a3a" stroke-width="0.18"># colonies</text>
<line x1="189.20" y1="424.40" x2="192.30" y2="424.40" stroke="#1a1a1a" stroke-width="1.15" />
<text x="186.30" y="426.65" font-size="7" fill="#3a3a3a" text-anchor="end"  stroke="#3a3a3a" stroke-width="0.18">0</text>
<line x1="189.20" y1="395.62" x2="192.30" y2="395.62" stroke="#1a1a1a" stroke-width="1.15" />
<text x="186.30" y="397.87" font-size="7" fill="#3a3a3a" text-anchor="end"  stroke="#3a3a3a" stroke-width="0.18">50</text>
<line x1="189.20" y1="366.84" x2="192.30" y2="366.84" stroke="#1a1a1a" stroke-width="1.15" />
<text x="186.30" y="369.09" font-size="7" fill="#3a3a3a" text-anchor="end"  stroke="#3a3a3a" stroke-width="0.18">100</text>
<line x1="189.20" y1="338.06" x2="192.30" y2="338.06" stroke="#1a1a1a" stroke-width="1.15" />
<text x="186.30" y="340.31" font-size="7" fill="#3a3a3a" text-anchor="end"  stroke="#3a3a3a" stroke-width="0.18">150</text>
<line x1="189.20" y1="309.28" x2="192.30" y2="309.28" stroke="#1a1a1a" stroke-width="1.15" />
<text x="186.30" y="311.53" font-size="7" fill="#3a3a3a" text-anchor="end"  stroke="#3a3a3a" stroke-width="0.18">200</text>
<line x1="189.20" y1="280.50" x2="192.30" y2="280.50" stroke="#1a1a1a" stroke-width="1.15" />
<text x="186.30" y="282.75" font-size="7" fill="#3a3a3a" text-anchor="end"  stroke="#3a3a3a" stroke-width="0.18">250</text>
<line x1="192.30" y1="277.90" x2="192.30" y2="425.00" stroke="#1a1a1a" stroke-width="1.15" />
<line x1="191.70" y1="424.40" x2="215.60" y2="424.40" stroke="#1a1a1a" stroke-width="1.15" />
<line x1="198.90" y1="327.12" x2="198.90" y2="316.76" stroke="#45a6dc" stroke-width="1.0" />
<line x1="196.90" y1="316.76" x2="200.90" y2="316.76" stroke="#45a6dc" stroke-width="1.0" />
<rect x="194.55" y="327.37" width="8.70" height="96.38" fill="#29a8e0" stroke="#2a90c6" stroke-width="0.5"/>
<line x1="209.65" y1="343.24" x2="209.65" y2="318.49" stroke="#eea038" stroke-width="1.0" />
<line x1="207.65" y1="318.49" x2="211.65" y2="318.49" stroke="#eea038" stroke-width="1.0" />
<rect x="205.35" y="343.49" width="8.60" height="80.26" fill="#f68b00" stroke="#e07d00" stroke-width="0.5"/>
<text x="170.00" y="350.40" font-size="7.6" fill="#3a3a3a" text-anchor="middle" textLength="27" lengthAdjust="spacingAndGlyphs" transform="rotate(-90 170.00 350.40)"  stroke="#3a3a3a" stroke-width="0.18"># colonies</text>
<text x="135.60" y="429.20" font-size="7" fill="#3a3a3a" text-anchor="end" textLength="21.5" lengthAdjust="spacingAndGlyphs" transform="rotate(-45 135.60 429.20)"  stroke="#3a3a3a" stroke-width="0.18">Control</text>
<text x="146.70" y="429.20" font-size="7" fill="#3a3a3a" text-anchor="end" textLength="22.5" lengthAdjust="spacingAndGlyphs" transform="rotate(-45 146.70 429.20)"  stroke="#3a3a3a" stroke-width="0.18">ART558</text>
<text x="201.50" y="429.20" font-size="7" fill="#3a3a3a" text-anchor="end" textLength="21.5" lengthAdjust="spacingAndGlyphs" transform="rotate(-45 201.50 429.20)"  stroke="#3a3a3a" stroke-width="0.18">Control</text>
<text x="212.30" y="429.20" font-size="7" fill="#3a3a3a" text-anchor="end" textLength="22.5" lengthAdjust="spacingAndGlyphs" transform="rotate(-45 212.30 429.20)"  stroke="#3a3a3a" stroke-width="0.18">ART558</text>
<defs>
<radialGradient id="pg" cx="0.5" cy="0.12" r="0.95" fx="0.5" fy="0.1">
<stop offset="0" stop-color="#f4f4fa"/>
<stop offset="0.35" stop-color="#dddfee"/>
<stop offset="0.7" stop-color="#bec2df"/>
<stop offset="1" stop-color="#969ccb"/>
</radialGradient>
<marker id="ah" viewBox="0 0 10 10" refX="9.5" refY="5" markerWidth="8" markerHeight="7.4" markerUnits="userSpaceOnUse" orient="auto" preserveAspectRatio="none"><path d="M0,0 L10,5 L0,10 L2.6,5 Z" fill="#111"/></marker>
</defs>
<rect x="252.5" y="250.5" width="176" height="343.3" fill="none" stroke="#3c3c3c" stroke-width="1.05"/>
<!-- mitochondrion -->
<ellipse cx="295" cy="390" rx="23.5" ry="41.3" transform="rotate(4 295 390)" fill="none" stroke="#d0d0d8" stroke-width="0.9"/>
<path d="M288,353.5 C290.1,352.3 293.5,351.3 296,351.3 C298.5,351.3 301.6,352.6 303,353.5 C304.4,354.4 305.0,356.1 304.5,357 C304.0,357.9 300.9,358.4 300,359 C299.1,359.6 298.7,359.9 299,360.3 C299.3,360.7 300.2,361.0 302,361.5 C303.8,362.0 308.3,362.3 310,363.5 C311.7,364.7 312.1,366.8 312,368.5 C311.9,370.2 311.3,372.4 309.5,373.5 C307.7,374.6 302.9,374.3 301,374.8 C299.1,375.3 298.0,375.8 298,376.3 C298.0,376.8 299.1,377.3 301,377.8 C302.9,378.3 307.8,378.3 309.5,379.5 C311.2,380.7 311.7,383.3 311.5,385 C311.3,386.7 310.4,388.6 308.5,389.5 C306.6,390.4 301.9,390.0 300,390.3 C298.1,390.6 297.0,391.1 297,391.5 C297.0,391.9 297.9,392.3 300,392.8 C302.1,393.3 307.6,393.3 309.5,394.5 C311.4,395.7 311.7,398.2 311.5,400 C311.3,401.8 310.4,403.9 308.5,405 C306.6,406.1 301.8,405.9 300,406.3 C298.2,406.7 297.5,407.1 297.5,407.5 C297.5,407.9 298.0,408.2 300,408.8 C302.0,409.4 307.7,409.6 309.5,411 C311.3,412.4 311.5,415.1 311,417 C310.5,418.9 308.7,421.1 306.5,422.5 C304.3,423.9 300.8,425.2 298,425.5 C295.2,425.8 292.2,425.3 290,424.5 C287.8,423.7 286.2,422.0 285,420.5 C283.8,419.0 282.5,417.0 283,415.5 C283.5,414.0 286.7,412.5 288,411.5 C289.3,410.5 291.0,410.2 291,409.5 C291.0,408.8 289.8,408.2 288,407.5 C286.2,406.8 281.8,406.4 280,405 C278.2,403.6 277.2,400.9 277,399 C276.8,397.1 277.3,394.8 279,393.5 C280.7,392.2 285.2,391.8 287,391.2 C288.8,390.6 290.0,390.3 290,389.8 C290.0,389.3 288.8,388.9 287,388.3 C285.2,387.8 280.8,387.8 279,386.5 C277.2,385.2 276.2,382.4 276,380.5 C275.8,378.6 276.2,376.1 278,375 C279.8,373.9 285.0,374.2 287,373.8 C289.0,373.4 290.0,373.0 290,372.5 C290.0,372.0 288.5,371.6 287,371 C285.5,370.4 282.2,370.2 281,369 C279.8,367.8 279.1,365.2 279.5,363.5 C279.9,361.8 282.1,360.2 283.5,358.5 C284.9,356.8 285.9,354.7 288,353.5 Z" fill="#e4e4f0" stroke="#cbcbdd" stroke-width="0.7"/>
<!-- top row -->
<text x="322.5" y="266.2" font-size="8.2" fill="#222" text-anchor="middle" textLength="25" lengthAdjust="spacingAndGlyphs" stroke="#222" stroke-width="0.18">3-PGA</text>
<line x1="369.6" y1="263.8" x2="342" y2="263.8" stroke="#333" stroke-width="1.3" marker-end="url(#ah)"/>
<text x="378.5" y="266.3" font-size="8.2" fill="#333" textLength="30.3" lengthAdjust="spacingAndGlyphs" stroke="#333" stroke-width="0.18">Glucose</text>
<g stroke="#c5102e" stroke-width="3.3" stroke-linecap="butt">
<line x1="389.6" y1="257.6" x2="399.4" y2="271.2"/><line x1="399.4" y1="257.6" x2="389.6" y2="271.2"/>
</g>
<!-- block arrows -->
<path d="M318.2,270.7 H325.5 V280.6 H330.4 L321.9,290.3 L313.3,280.6 H318.2 Z" fill="#e2e7f4"/>
<rect x="318.6" y="271.1" width="1.6" height="11.4" fill="#aab6d0"/>
<rect x="323.5" y="271.1" width="1.6" height="11.4" fill="#aab6d0"/>
<path d="M318.2,270.7 H325.5 V280.6 H330.4 L321.9,290.3 L313.3,280.6 H318.2 Z" fill="none" stroke="#465a80" stroke-width="1.15" stroke-linejoin="miter"/>
<path d="M318.2,293.0 H325.5 V302.9 H330.4 L321.9,312.6 L313.3,302.9 H318.2 Z" fill="#e2e7f4"/>
<rect x="318.6" y="293.4" width="1.6" height="11.4" fill="#aab6d0"/>
<rect x="323.5" y="293.4" width="1.6" height="11.4" fill="#aab6d0"/>
<path d="M318.2,293.0 H325.5 V302.9 H330.4 L321.9,312.6 L313.3,302.9 H318.2 Z" fill="none" stroke="#465a80" stroke-width="1.15" stroke-linejoin="miter"/>
<path d="M318.2,315.3 H325.5 V325.2 H330.4 L321.9,334.9 L313.3,325.2 H318.2 Z" fill="#e2e7f4"/>
<rect x="318.6" y="315.7" width="1.6" height="11.4" fill="#aab6d0"/>
<rect x="323.5" y="315.7" width="1.6" height="11.4" fill="#aab6d0"/>
<path d="M318.2,315.3 H325.5 V325.2 H330.4 L321.9,334.9 L313.3,325.2 H318.2 Z" fill="none" stroke="#465a80" stroke-width="1.15" stroke-linejoin="miter"/>
<text x="351.5" y="282.4" font-size="8.2" fill="#333" text-anchor="middle" textLength="29.5" lengthAdjust="spacingAndGlyphs" stroke="#333" stroke-width="0.18">PHGDH</text>
<g stroke="#c0203c" stroke-width="1.2"><line x1="345" y1="287.5" x2="358" y2="287.5"/><line x1="351.3" y1="287.5" x2="351.3" y2="298.8"/></g>
<text x="352" y="308" font-size="8.2" fill="#c0203c" text-anchor="middle" textLength="35" lengthAdjust="spacingAndGlyphs" stroke="#c0203c" stroke-width="0.18">WQ-2101</text>
<!-- SHIN / SHMT -->
<text x="271" y="342.7" font-size="8.6" fill="#c0203c" text-anchor="middle" textLength="23" lengthAdjust="spacingAndGlyphs" stroke="#c0203c" stroke-width="0.18">SHIN1</text>
<g stroke="#b8304e" stroke-width="1.2"><line x1="270.8" y1="345" x2="270.8" y2="357.5"/><line x1="264.5" y1="357.5" x2="277.5" y2="357.5"/></g>
<text x="272.6" y="369.7" font-size="8.6" fill="#2d4a6e" text-anchor="middle" textLength="26.8" lengthAdjust="spacingAndGlyphs" stroke="#2d4a6e" stroke-width="0.18">SHMT2</text>
<text x="370.4" y="342.7" font-size="8.6" fill="#c0203c" text-anchor="middle" textLength="22.8" lengthAdjust="spacingAndGlyphs" stroke="#c0203c" stroke-width="0.18">SHIN1</text>
<g stroke="#b8304e" stroke-width="1.2"><line x1="370.6" y1="345" x2="370.6" y2="357.9"/><line x1="363.6" y1="357.9" x2="377.1" y2="357.9"/></g>
<text x="372.3" y="371.3" font-size="8.6" fill="#2d4a6e" text-anchor="middle" textLength="26.6" lengthAdjust="spacingAndGlyphs" stroke="#2d4a6e" stroke-width="0.18">SHMT1</text>
<!-- serine -->
<rect x="301" y="337.6" width="42.6" height="20.4" rx="10.2" fill="#dfe0ec" stroke="#353a48" stroke-width="1.3"/>
<text x="321.5" y="350.4" font-size="8.2" fill="#34506c" text-anchor="middle" textLength="23.5" lengthAdjust="spacingAndGlyphs" stroke="#34506c" stroke-width="0.18">Serine</text>
<g stroke="#c5102e" stroke-width="3.3"><line x1="316.8" y1="341" x2="326.8" y2="354.2"/><line x1="326.8" y1="341" x2="316.8" y2="354.2"/></g>
<!-- pathway arrows -->
<g fill="none" stroke="#111" stroke-width="1.1">
<path d="M304,360.5 L292.6,370.8 L292.6,388.5" marker-end="url(#ah)"/>
<path d="M292.6,392.8 L292.6,416.3" marker-end="url(#ah)"/>
<path d="M340.5,360 L351.6,370.6 L351.6,388.6" marker-end="url(#ah)"/>
<path d="M351.6,396 L351.6,418" marker-end="url(#ah)"/>
<path d="M293.2,421.8 C300,434 328,438 349.5,423" marker-end="url(#ah)"/>
<path d="M353.3,420.3 C363,422 370.5,428 372.3,438.3" marker-end="url(#ah)"/>
<path d="M372.3,451.8 L372.3,470.8" marker-end="url(#ah)"/>
</g>
<text x="321.5" y="386.7" font-size="8.2" fill="#333" text-anchor="middle" stroke="#333" stroke-width="0.18">One-</text>
<text x="321.5" y="397.3" font-size="8.2" fill="#333" text-anchor="middle" textLength="26.5" lengthAdjust="spacingAndGlyphs" stroke="#333" stroke-width="0.18">Carbon</text>
<text x="321.5" y="407.0" font-size="8.2" fill="#333" text-anchor="middle" textLength="44" lengthAdjust="spacingAndGlyphs" stroke="#333" stroke-width="0.18">Metabolism</text>
<text x="370.7" y="449.1" font-size="8.2" fill="#333" text-anchor="middle" textLength="54" lengthAdjust="spacingAndGlyphs" stroke="#333" stroke-width="0.18">Formaldehyde</text>
<!-- protein -->
<ellipse cx="372.9" cy="493" rx="16.1" ry="15.4" fill="url(#pg)"/>
<text x="373" y="494.4" font-size="8.4" fill="#2a2c40" text-anchor="middle" textLength="26.7" lengthAdjust="spacingAndGlyphs" stroke="#2a2c40" stroke-width="0.18">Protein</text>
<line x1="373.7" y1="508" x2="373.7" y2="515.5" stroke="#111" stroke-width="1.4"/>
<text x="404.9" y="507.6" font-size="8.2" fill="#222" text-anchor="middle" textLength="17.3" lengthAdjust="spacingAndGlyphs" stroke="#222" stroke-width="0.18">DPC</text>
<text x="321.2" y="522.9" font-size="8.4" fill="#111" text-anchor="middle" textLength="18.4" lengthAdjust="spacingAndGlyphs" stroke="#111" stroke-width="0.18">DNA</text>
<rect x="332.90" y="515.20" width="89.10" height="9.40" fill="#111"/>
<rect x="332.90" y="517.95" width="3.30" height="3.90" fill="#fff"/>
<rect x="337.30" y="517.95" width="3.30" height="3.90" fill="#fff"/>
<rect x="341.70" y="517.95" width="3.30" height="3.90" fill="#fff"/>
<rect x="346.10" y="517.95" width="3.30" height="3.90" fill="#fff"/>
<rect x="350.50" y="517.95" width="3.30" height="3.90" fill="#fff"/>
<rect x="354.90" y="517.95" width="3.30" height="3.90" fill="#fff"/>
<rect x="359.30" y="517.95" width="3.30" height="3.90" fill="#fff"/>
<rect x="363.70" y="517.95" width="3.30" height="3.90" fill="#fff"/>
<rect x="368.10" y="517.95" width="3.30" height="3.90" fill="#fff"/>
<rect x="372.50" y="517.95" width="3.30" height="3.90" fill="#fff"/>
<rect x="376.90" y="517.95" width="3.30" height="3.90" fill="#fff"/>
<rect x="381.30" y="517.95" width="3.30" height="3.90" fill="#fff"/>
<rect x="385.70" y="517.95" width="3.30" height="3.90" fill="#fff"/>
<rect x="390.10" y="517.95" width="3.30" height="3.90" fill="#fff"/>
<rect x="394.50" y="517.95" width="3.30" height="3.90" fill="#fff"/>
<rect x="398.90" y="517.95" width="3.30" height="3.90" fill="#fff"/>
<rect x="403.30" y="517.95" width="3.30" height="3.90" fill="#fff"/>
<rect x="407.70" y="517.95" width="3.30" height="3.90" fill="#fff"/>
<rect x="412.10" y="517.95" width="3.30" height="3.90" fill="#fff"/>
<rect x="416.50" y="517.95" width="3.30" height="3.90" fill="#fff"/>
<rect x="420.90" y="517.95" width="1.10" height="3.90" fill="#fff"/>
<rect x="358.8" y="515.2" width="9.7" height="2.9" fill="#2ea3dc"/>
<rect x="381.2" y="521.6" width="8.6" height="3.0" fill="#2ea3dc"/>
<!-- blue arrows -->
<g fill="#2ea3dc">
<path d="M371.8,527.4 H375.4 V537 H377.8 L373.6,543.2 L369.4,537 H371.8 Z"/>
<path d="M371.8,558 H375.4 V568 H377.8 L373.6,574.3 L369.4,568 H371.8 Z"/>
</g>
<rect x="332.90" y="546.10" width="26.30" height="9.30" fill="#111"/>
<rect x="332.90" y="548.85" width="3.30" height="3.80" fill="#fff"/>
<rect x="337.30" y="548.85" width="3.30" height="3.80" fill="#fff"/>
<rect x="341.70" y="548.85" width="3.30" height="3.80" fill="#fff"/>
<rect x="346.10" y="548.85" width="3.30" height="3.80" fill="#fff"/>
<rect x="350.50" y="548.85" width="3.30" height="3.80" fill="#fff"/>
<rect x="354.90" y="548.85" width="3.30" height="3.80" fill="#fff"/>
<rect x="359.2" y="546.1" width="8.1" height="2.8" fill="#2ea3dc"/>
<rect x="367.3" y="546.1" width="2.5" height="2.8" fill="#111"/>
<rect x="390.40" y="546.10" width="31.60" height="9.30" fill="#111"/>
<rect x="390.40" y="548.85" width="3.30" height="3.80" fill="#fff"/>
<rect x="394.80" y="548.85" width="3.30" height="3.80" fill="#fff"/>
<rect x="399.20" y="548.85" width="3.30" height="3.80" fill="#fff"/>
<rect x="403.60" y="548.85" width="3.30" height="3.80" fill="#fff"/>
<rect x="408.00" y="548.85" width="3.30" height="3.80" fill="#fff"/>
<rect x="412.40" y="548.85" width="3.30" height="3.80" fill="#fff"/>
<rect x="416.80" y="548.85" width="3.30" height="3.80" fill="#fff"/>
<rect x="421.20" y="548.85" width="0.80" height="3.80" fill="#fff"/>
<rect x="381.2" y="552.5" width="9.2" height="2.9" fill="#2ea3dc"/>
<rect x="377.2" y="552.5" width="4" height="2.9" fill="#111"/>
<rect x="338.90" y="576.50" width="71.60" height="10.00" fill="#111"/>
<rect x="338.90" y="579.25" width="3.30" height="4.50" fill="#fff"/>
<rect x="343.30" y="579.25" width="3.30" height="4.50" fill="#fff"/>
<rect x="347.70" y="579.25" width="3.30" height="4.50" fill="#fff"/>
<rect x="352.10" y="579.25" width="3.30" height="4.50" fill="#fff"/>
<rect x="356.50" y="579.25" width="3.30" height="4.50" fill="#fff"/>
<rect x="360.90" y="579.25" width="3.30" height="4.50" fill="#fff"/>
<rect x="365.30" y="579.25" width="3.30" height="4.50" fill="#fff"/>
<rect x="369.70" y="579.25" width="3.30" height="4.50" fill="#fff"/>
<rect x="374.10" y="579.25" width="3.30" height="4.50" fill="#fff"/>
<rect x="378.50" y="579.25" width="3.30" height="4.50" fill="#fff"/>
<rect x="382.90" y="579.25" width="3.30" height="4.50" fill="#fff"/>
<rect x="387.30" y="579.25" width="3.30" height="4.50" fill="#fff"/>
<rect x="391.70" y="579.25" width="3.30" height="4.50" fill="#fff"/>
<rect x="396.10" y="579.25" width="3.30" height="4.50" fill="#fff"/>
<rect x="400.50" y="579.25" width="3.30" height="4.50" fill="#fff"/>
<rect x="404.90" y="579.25" width="3.30" height="4.50" fill="#fff"/>
<rect x="409.30" y="579.25" width="1.20" height="4.50" fill="#fff"/>
<rect x="369.2" y="576.5" width="9.6" height="10" fill="#2ea3dc"/>
<rect x="370.2" y="579.9" width="3.2" height="3.2" fill="#fff"/><rect x="374.7" y="579.9" width="3.2" height="3.2" fill="#fff"/>
<!-- left annotations -->
<text x="282.5" y="510.8" font-size="8.6" fill="#f0a040" text-anchor="middle" textLength="28.7" lengthAdjust="spacingAndGlyphs" stroke="#f0a040" stroke-width="0.18">ART558</text>
<text x="270.8" y="520.0" font-size="8.5" fill="#f0a040" font-style="italic" textLength="24.6" lengthAdjust="spacingAndGlyphs" stroke="#f0a040" stroke-width="0.18">Polq<tspan font-size="5.6" dy="-3.4" font-style="normal">-/-</tspan></text>
<g stroke="#f0a040" stroke-width="1.2"><line x1="280.8" y1="530.3" x2="280.8" y2="543"/><line x1="273.8" y1="543" x2="287.7" y2="543"/></g>
<text x="282.6" y="558.6" font-size="8.6" fill="#3fa9de" text-anchor="middle" textLength="22.3" lengthAdjust="spacingAndGlyphs" stroke="#3fa9de" stroke-width="0.18">POLθ-</text>
<text x="282.6" y="568.2" font-size="8.6" fill="#3fa9de" text-anchor="middle" textLength="19.3" lengthAdjust="spacingAndGlyphs" stroke="#3fa9de" stroke-width="0.18">TMEJ</text>

</svg></body></html>
